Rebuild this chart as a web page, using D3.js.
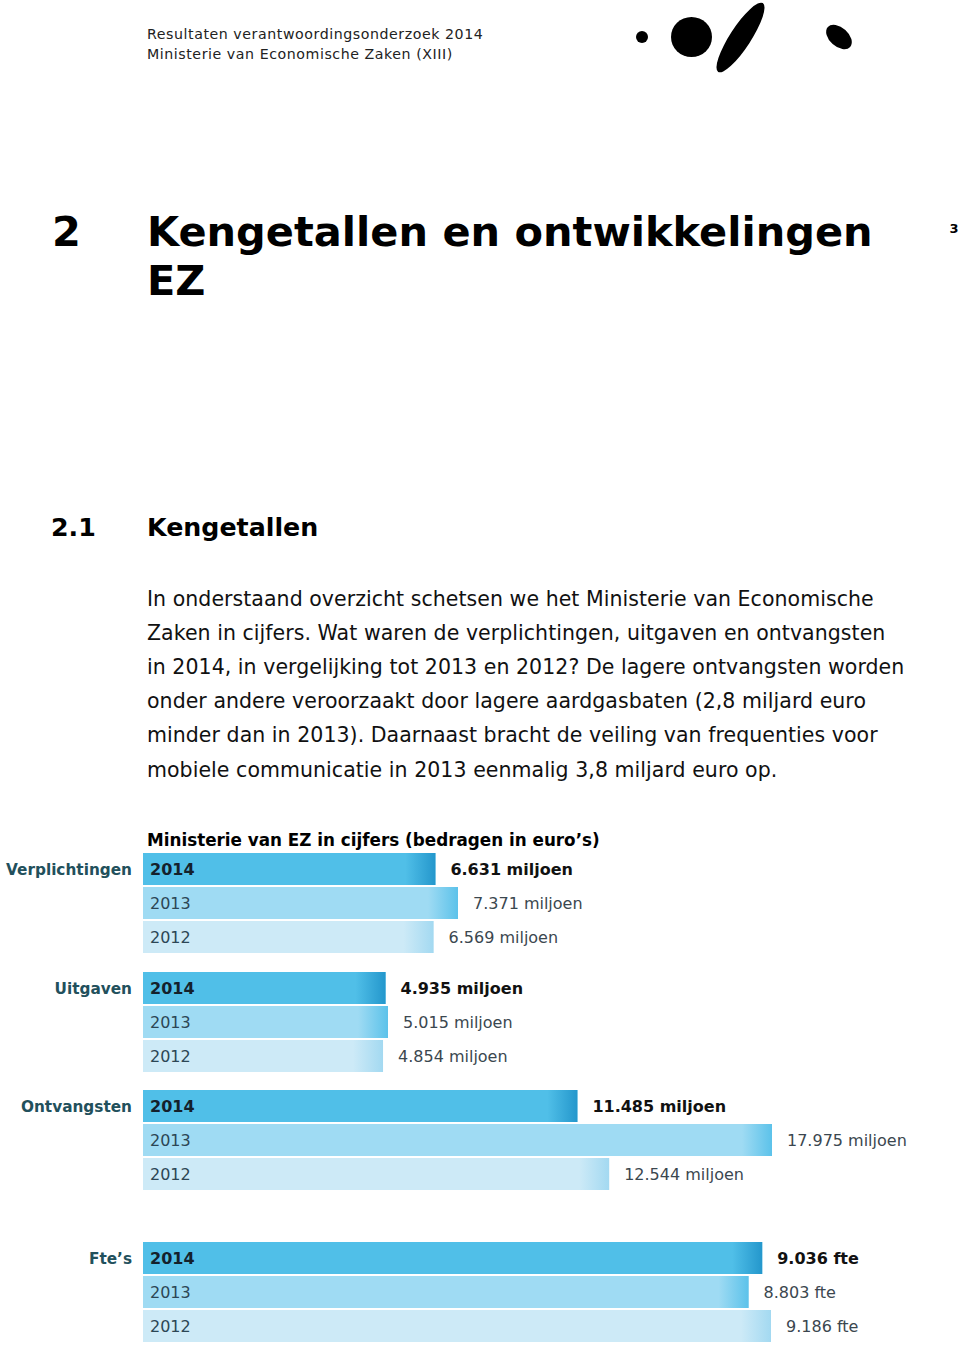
<!DOCTYPE html>
<html>
<head>
<meta charset="utf-8">
<script src="https://cdn.jsdelivr.net/npm/d3@7"></script>
<style>
  html, body { margin: 0; padding: 0; background: #fff; }
  svg { display: block; font-family: "DejaVu Sans", Verdana, sans-serif; }
</style>
</head>
<body>
<script>
// ---------- data ----------
const categories = ["Verplichtingen", "Uitgaven", "Ontvangsten", "Fte’s"];
const years = ["2014", "2013", "2012"];
const verplichtingen = [6631, 7371, 6569];
const uitgaven = [4935, 5015, 4854];
const ontvangsten = [11485, 17975, 12544];
const ftes = [9036, 8803, 9186];
const units = ["miljoen", "miljoen", "miljoen", "fte"];

const headerLines = ["Resultaten verantwoordingsonderzoek 2014", "Ministerie van Economische Zaken (XIII)"];
const chapterNumber = "2";
const chapterTitle = ["Kengetallen en ontwikkelingen", "EZ"];
const pageNumber = "3";
const sectionNumber = "2.1";
const sectionTitle = "Kengetallen";
const bodyLines = [
  "In onderstaand overzicht schetsen we het Ministerie van Economische",
  "Zaken in cijfers. Wat waren de verplichtingen, uitgaven en ontvangsten",
  "in 2014, in vergelijking tot 2013 en 2012? De lagere ontvangsten worden",
  "onder andere veroorzaakt door lagere aardgasbaten (2,8 miljard euro",
  "minder dan in 2013). Daarnaast bracht de veiling van frequenties voor",
  "mobiele communicatie in 2013 eenmalig 3,8 miljard euro op."
];
const chartTitle = "Ministerie van EZ in cijfers (bedragen in euro’s)";

const series = [verplichtingen, uitgaven, ontvangsten, ftes];

// ---------- layout ----------
const W = 960, H = 1354;
const groupTop = [853, 972, 1090, 1242];
const groupSpan = [225, 155, 539, 538];
const barX0 = 143, labelPad = 90;

const nl = d3.formatLocale({decimal: ",", thousands: ".", grouping: [3], currency: ["€", ""]});
const fmt = nl.format(",");

const svg = d3.select("body").append("svg").attr("width", W).attr("height", H);

const defs = svg.append("defs");
const barStyles = [
  {base: "#50bfe8", end: "#2497cc", text: "#14212c", weight: "bold", valColor: "#111111"},
  {base: "#9fdbf3", end: "#5cc2ea", text: "#2c4655", weight: "normal", valColor: "#3b474f"},
  {base: "#cdeaf7", end: "#a3d9f1", text: "#2c4655", weight: "normal", valColor: "#3b474f"}
];
barStyles.forEach((s, i) => {
  const g = defs.append("linearGradient").attr("id", "grad" + i)
    .attr("x1", "0%").attr("x2", "100%").attr("y1", "0%").attr("y2", "0%");
  g.append("stop").attr("offset", "0%").attr("stop-color", s.base);
  g.append("stop").attr("offset", "100%").attr("stop-color", s.end);
});

// ---------- header ----------
svg.append("g").selectAll("text").data(headerLines).join("text")
  .attr("x", 147).attr("y", (d, i) => 39 + i * 20)
  .attr("font-size", 14.2).attr("letter-spacing", 0.55).attr("fill", "#222")
  .text(d => d);

// logo
const logo = svg.append("g").attr("fill", "#000");
logo.append("ellipse").attr("cx", 642).attr("cy", 37).attr("rx", 6).attr("ry", 6);
logo.append("ellipse").attr("cx", 691.5).attr("cy", 37).attr("rx", 20.5).attr("ry", 20);
logo.append("ellipse").attr("cx", 740.5).attr("cy", 37.5).attr("rx", 41).attr("ry", 10.5)
  .attr("transform", "rotate(-57 740.5 37.5)");
logo.append("ellipse").attr("cx", 839).attr("cy", 37).attr("rx", 15).attr("ry", 9.5)
  .attr("transform", "rotate(42 839 37)");

// chapter title
svg.append("text").attr("x", 52).attr("y", 246).attr("font-size", 41.5).attr("font-weight", "bold")
  .attr("fill", "#000").text(chapterNumber);
svg.append("g").selectAll("text").data(chapterTitle).join("text")
  .attr("x", 147).attr("y", (d, i) => 246 + i * 49)
  .attr("font-size", 41.5).attr("font-weight", "bold").attr("fill", "#000")
  .text(d => d);
svg.append("text").attr("x", 954).attr("y", 233).attr("text-anchor", "middle")
  .attr("font-size", 13).attr("font-weight", "bold").attr("fill", "#000").text(pageNumber);

// section
svg.append("text").attr("x", 51).attr("y", 536).attr("font-size", 25.3).attr("font-weight", "bold")
  .attr("fill", "#000").text(sectionNumber);
svg.append("text").attr("x", 147).attr("y", 536).attr("font-size", 25.3).attr("font-weight", "bold")
  .attr("fill", "#000").text(sectionTitle);

// body
svg.append("g").selectAll("text").data(bodyLines).join("text")
  .attr("x", 147).attr("y", (d, i) => 606 + i * 34.1)
  .attr("font-size", 20.5).attr("letter-spacing", 0.05).attr("fill", "#111")
  .text(d => d);

// chart title
svg.append("text").attr("x", 147).attr("y", 846).attr("font-size", 16.8).attr("font-weight", "bold")
  .attr("fill", "#000").text(chartTitle);

// ---------- chart ----------
const rowBand = d3.scaleBand().domain(years).range([0, 100]).paddingInner(2 / 34);

categories.forEach((cat, gi) => {
  const vals = series[gi];
  const x = d3.scaleLinear().domain([0, d3.max(vals)]).range([0, groupSpan[gi]]);
  const g = svg.append("g").attr("transform", `translate(0,${groupTop[gi]})`);
  const rows = years.map((y, i) => ({year: y, value: vals[i], i}));

  // bars
  g.selectAll("rect.bar").data(rows).join("rect").attr("class", "bar")
    .attr("x", barX0).attr("y", d => rowBand(d.year))
    .attr("width", d => labelPad + x(d.value)).attr("height", rowBand.bandwidth())
    .attr("fill", d => barStyles[d.i].base);
  // darker gradient at the bar end
  g.selectAll("rect.end").data(rows).join("rect").attr("class", "end")
    .attr("x", d => barX0 + labelPad + x(d.value) - 30).attr("y", d => rowBand(d.year))
    .attr("width", 30).attr("height", rowBand.bandwidth())
    .attr("fill", d => `url(#grad${d.i})`);

  // year labels
  g.selectAll("text.year").data(rows).join("text").attr("class", "year")
    .attr("x", 150).attr("y", d => rowBand(d.year) + rowBand.bandwidth() / 2 + 6)
    .attr("font-size", 16).attr("font-weight", d => barStyles[d.i].weight)
    .attr("fill", d => barStyles[d.i].text).text(d => d.year);

  // value labels
  g.selectAll("text.val").data(rows).join("text").attr("class", "val")
    .attr("x", d => barX0 + labelPad + x(d.value) + 15)
    .attr("y", d => rowBand(d.year) + rowBand.bandwidth() / 2 + 6)
    .attr("font-size", 16).attr("font-weight", d => barStyles[d.i].weight)
    .attr("fill", d => barStyles[d.i].valColor)
    .text(d => `${fmt(d.value)} ${units[gi]}`);

  // category label
  g.append("text").attr("x", 132).attr("y", rowBand(years[0]) + rowBand.bandwidth() / 2 + 6)
    .attr("text-anchor", "end").attr("font-size", 15.3).attr("font-weight", "bold")
    .attr("fill", "#22505c").text(cat);
});
</script>
</body>
</html>
